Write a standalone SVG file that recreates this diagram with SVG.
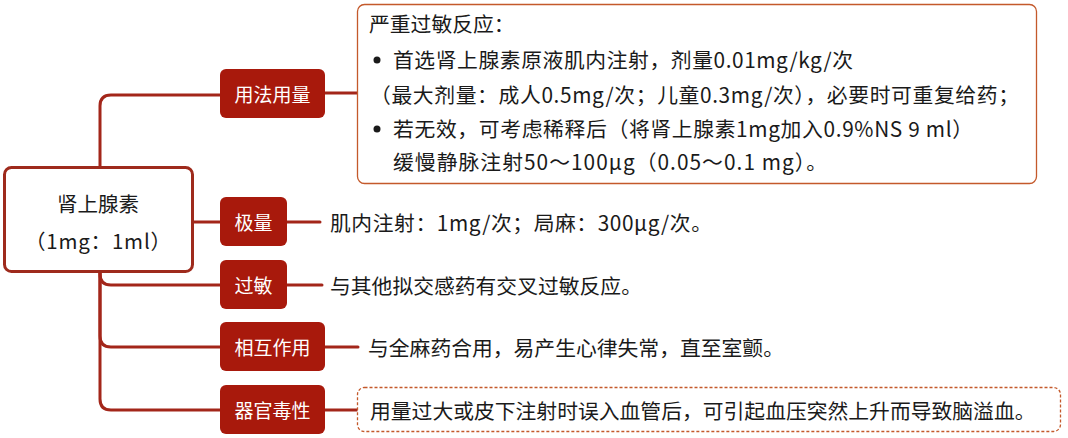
<svg xmlns="http://www.w3.org/2000/svg" width="1068" height="438" viewBox="0 0 1068 438">
<style>
text{font-family:"Noto Sans CJK SC","Noto Sans",sans-serif;dominant-baseline:central;}
.t{font-size:20.8px;fill:#1a1a1a;}
.r{font-size:20.5px;fill:#1a1a1a;text-anchor:middle;}
.b{font-size:19px;fill:#ffffff;text-anchor:middle;}
.bn{fill:#a8190c;}
.c{fill:none;stroke:#a3261a;stroke-width:3;stroke-linecap:round;}
.box{fill:#ffffff;stroke:#c4592b;stroke-width:1.3;}
</style>
<rect width="1068" height="438" fill="#ffffff"/>
<g id="connectors">
<path class="c" d="M100,167 V106 Q100,95 111,95 H220"/>
<path class="c" d="M193,222 H220"/>
<path class="c" d="M100,272 V274 Q100,285 111,285 H220"/>
<path class="c" d="M100,272 V336 Q100,347 111,347 H220"/>
<path class="c" d="M100,272 V399 Q100,410 111,410 H220"/>
<path class="c" d="M325,93 H357"/>
<path class="c" d="M287,222 H320"/>
<path class="c" d="M287,285 H322"/>
<path class="c" d="M325,347 H358"/>
<path class="c" d="M325,410 H357"/>
</g>
<g id="root">
<rect x="4.5" y="167.5" width="188" height="104" rx="7" fill="#ffffff" stroke="#9e2a1c" stroke-width="3"/>
<text class="r" x="98" y="203">肾上腺素</text>
<text class="r" x="98" y="240" textLength="146" lengthAdjust="spacing">（1mg：1ml）</text>
</g>
<g id="n-usage">
<rect class="bn" x="220" y="69" width="105" height="49" rx="6"/>
<text class="b" x="272.5" y="93.5">用法用量</text>
</g>
<g id="n-max">
<rect class="bn" x="220" y="197" width="67" height="49" rx="6"/>
<text class="b" x="253.5" y="221.5">极量</text>
</g>
<g id="n-allergy">
<rect class="bn" x="220" y="260" width="67" height="49" rx="6"/>
<text class="b" x="253.5" y="284.5">过敏</text>
</g>
<g id="n-interact">
<rect class="bn" x="220" y="322" width="105" height="49" rx="6"/>
<text class="b" x="272.5" y="346.5">相互作用</text>
</g>
<g id="n-tox">
<rect class="bn" x="220" y="385" width="105" height="49" rx="6"/>
<text class="b" x="272.5" y="409.5">器官毒性</text>
</g>
<g id="d-usage">
<rect class="box" x="357.5" y="4.5" width="679" height="179" rx="7"/>
<text class="t" x="369" y="23">严重过敏反应：</text>
<circle cx="377" cy="60" r="3.5" fill="#1a1a1a"/>
<text class="t" x="393" y="59" textLength="460" lengthAdjust="spacing">首选肾上腺素原液肌内注射，剂量0.01mg/kg/次</text>
<text class="t" x="370" y="94" textLength="649" lengthAdjust="spacing">（最大剂量：成人0.5mg/次；儿童0.3mg/次），必要时可重复给药；</text>
<circle cx="377" cy="129" r="3.5" fill="#1a1a1a"/>
<text class="t" x="393" y="128" textLength="580" lengthAdjust="spacing">若无效，可考虑稀释后（将肾上腺素1mg加入0.9%NS 9 ml）</text>
<text class="t" x="393" y="161" textLength="434" lengthAdjust="spacing">缓慢静脉注射50～100μg（0.05～0.1 mg）。</text>
</g>
<g id="d-max">
<text class="t" x="330" y="222" textLength="382" lengthAdjust="spacing">肌内注射：1mg/次；局麻：300μg/次。</text>
</g>
<g id="d-allergy">
<text class="t" x="330" y="285">与其他拟交感药有交叉过敏反应。</text>
</g>
<g id="d-interact">
<text class="t" x="368" y="347">与全麻药合用，易产生心律失常，直至室颤。</text>
</g>
<g id="d-tox">
<rect class="box" x="357.5" y="387.5" width="703" height="44" rx="7" stroke-dasharray="3,2"/>
<text class="t" x="370" y="410">用量过大或皮下注射时误入血管后，可引起血压突然上升而导致脑溢血。</text>
</g>
</svg>
